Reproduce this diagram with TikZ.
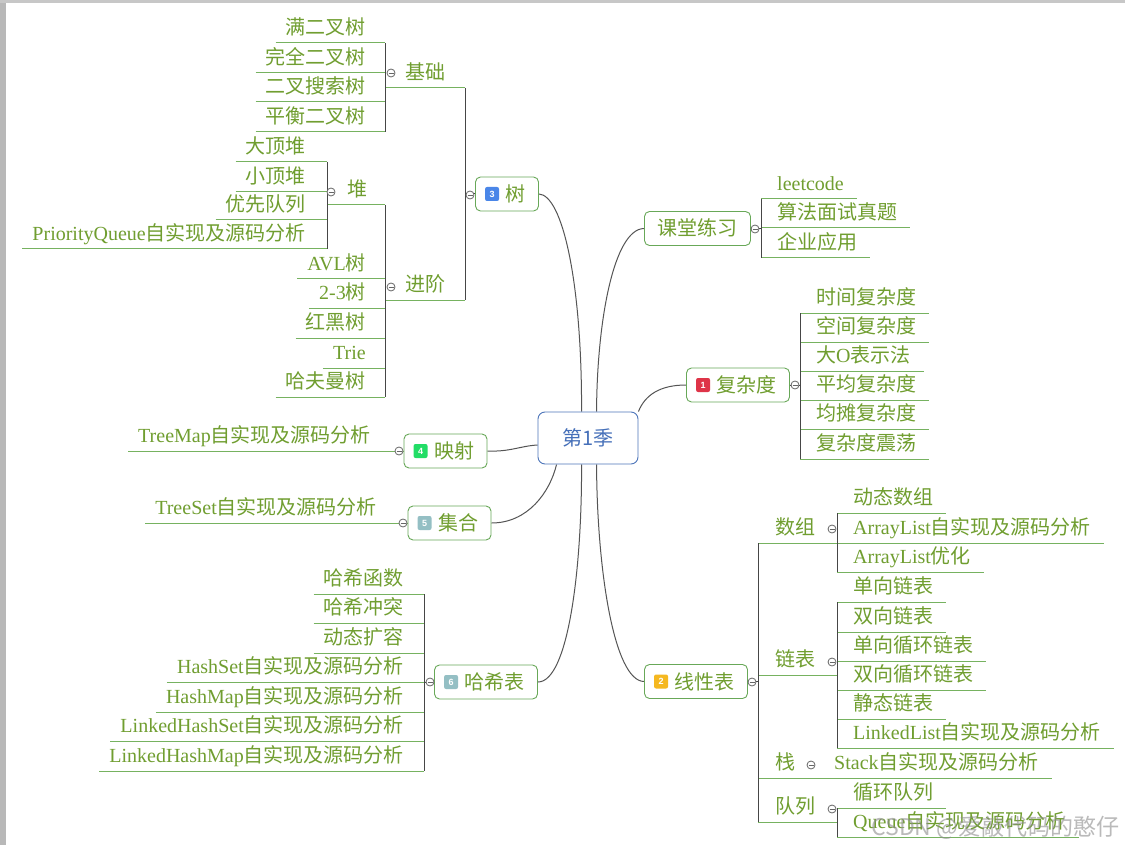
\documentclass[tikz,border=0pt]{standalone}
\usepackage{fontspec}
\setmainfont{Noto Sans CJK SC}
\newfontfamily\en{Liberation Serif}
\newfontfamily\bdg{Liberation Sans}
\definecolor{txtg}{RGB}{112,158,48}
\definecolor{boxg}{RGB}{104,168,88}
\definecolor{ulg}{RGB}{118,178,96}
\definecolor{brkc}{RGB}{70,70,70}
\definecolor{crv}{RGB}{85,85,85}
\definecolor{cblue}{RGB}{78,118,186}
\definecolor{ctext}{RGB}{70,112,185}
\definecolor{bone}{RGB}{222,52,72}
\definecolor{btwo}{RGB}{245,184,32}
\definecolor{bthree}{RGB}{74,134,232}
\definecolor{bfour}{RGB}{34,221,102}
\definecolor{bfive}{RGB}{148,191,196}
\pgfdeclarelayer{back}
\pgfdeclarelayer{bg}
\pgfsetlayers{back,bg,main}
\begin{document}
\begin{tikzpicture}[x=1pt,y=-1pt,
  leaf/.style={font=\fontsize{20}{24}\selectfont, text=txtg, inner xsep=0pt, inner ysep=8pt, text height=14pt, text depth=0pt},
  topic/.style={draw=boxg, fill=white, rounded corners=5pt, line width=0.9pt, text=txtg, font=\fontsize{20}{24}\selectfont, minimum height=34pt, inner xsep=13pt, text height=15pt, text depth=0pt},
  root/.style={draw=cblue, fill=white, rounded corners=7pt, line width=0.9pt, text=ctext, font=\fontsize{20}{24}\selectfont, minimum width=100pt, minimum height=52pt, text height=15pt, text depth=0pt},
  badge/.style={rounded corners=2pt, minimum width=14pt, minimum height=14pt, inner sep=0pt, text=white, font=\bdg\bfseries\fontsize{9}{9}\selectfont},
  tog/.style={circle, draw=black!60, fill=white, line width=0.8pt, minimum size=8pt, inner sep=0pt,
     path picture={\draw[black!60,line width=0.6pt] ([xshift=-2.5pt]path picture bounding box.center) -- ([xshift=2.5pt]path picture bounding box.center);}},
  uline/.style={draw=ulg, line width=1pt},
  bline/.style={draw=brkc, line width=1pt},
  conn/.style={draw=crv, line width=1pt}
]
\begin{pgfonlayer}{back}
\fill[white] (0,0) rectangle (1125,845);
\fill[black!28] (0,0) rectangle (6,845);
\fill[black!22] (0,0) rectangle (1125,3);
\end{pgfonlayer}
\useasboundingbox (0,0) rectangle (1125,845);

% bracket x positions
\coordinate (bT) at (465,0);
\coordinate (bJ) at (385,0);
\coordinate (bD) at (327,0);
\coordinate (bK) at (761,0);
\coordinate (bF) at (800,0);
\coordinate (bL) at (758,0);
\coordinate (bA) at (837,0);
\coordinate (bH) at (424,0);

% root
\node[root] (c) at (588,438) {第1季};

% main topics
\node[topic] (tree) at (507,194) {\hspace*{17pt}树};
\node[topic] (kt) at (697.5,228.5) {课堂练习};
\node[topic] (fz) at (738,385) {\hspace*{17pt}复杂度};
\node[topic] (ys) at (445.5,451) {\hspace*{17pt}映射};
\node[topic] (jh) at (449.5,523) {\hspace*{17pt}集合};
\node[topic] (hx) at (486,682) {\hspace*{17pt}哈希表};
\node[topic] (xx) at (696,681.5) {\hspace*{17pt}线性表};

% ---------- tree ----------
\node[leaf,anchor=south west] (jc) at (405,88) {基础};
\node[leaf,anchor=south west] (jj) at (405,300) {进阶};
\node[leaf,anchor=south west] (dui) at (347,205) {堆};
\node[leaf,anchor=south east] (l1) at (366,43) {满二叉树};
\node[leaf,anchor=south east] (l2) at (366,73) {完全二叉树};
\node[leaf,anchor=south east] (l3) at (366,102) {二叉搜索树};
\node[leaf,anchor=south east] (l4) at (366,132) {平衡二叉树};
\node[leaf,anchor=south east] (h1) at (306,162) {大顶堆};
\node[leaf,anchor=south east] (h2) at (306,192) {小顶堆};
\node[leaf,anchor=south east] (h3) at (306,220) {优先队列};
\node[leaf,anchor=south east] (h4) at (306,249) {{\en PriorityQueue}自实现及源码分析};
\node[leaf,anchor=south east] (g1) at (366,279) {{\en AVL}树};
\node[leaf,anchor=south east] (g2) at (366,308) {{\en 2-3}树};
\node[leaf,anchor=south east] (g3) at (366,338) {红黑树};
\node[leaf,anchor=south east] (g4) at (366,368) {{\en Trie}};
\node[leaf,anchor=south east] (g5) at (366,397) {哈夫曼树};
\foreach \n in {l1,l2,l3,l4,g1,g2,g3,g4,g5}{\draw[uline] ([xshift=-10pt]\n.south west) -- (\n.south -| bJ);}
\foreach \n in {h1,h2,h3,h4}{\draw[uline] ([xshift=-10pt]\n.south west) -- (\n.south -| bD);}
\draw[uline] (jc.south -| bJ) -- (jc.south -| bT);
\draw[uline] (jj.south -| bJ) -- (jj.south -| bT);
\draw[uline] (dui.south -| bD) -- (dui.south -| bJ);
\draw[bline] (l1.south -| bJ) -- (l4.south -| bJ);
\draw[bline] (h1.south -| bD) -- (h4.south -| bD);
\draw[bline] (dui.south -| bJ) -- (g5.south -| bJ);
\draw[bline] (jc.south -| bT) -- (jj.south -| bT);
\draw[bline] (tree.west) -- (tree.west -| bT);

% ---------- ketang ----------
\node[leaf,anchor=south west] (k1) at (777,199) {{\en leetcode}};
\node[leaf,anchor=south west] (k2) at (777,228) {算法面试真题};
\node[leaf,anchor=south west] (k3) at (777,258) {企业应用};
\foreach \n in {k1,k2,k3}{\draw[uline] (\n.south -| bK) -- ([xshift=13pt]\n.south east);}
\draw[bline] (k1.south -| bK) -- (k3.south -| bK);
\draw[bline] (kt.east) -- (kt.east -| bK);

% ---------- fuzadu ----------
\node[leaf,anchor=south west] (f1) at (816,313) {时间复杂度};
\node[leaf,anchor=south west] (f2) at (816,342) {空间复杂度};
\node[leaf,anchor=south west] (f3) at (816,371) {大{\en O}表示法};
\node[leaf,anchor=south west] (f4) at (816,400) {平均复杂度};
\node[leaf,anchor=south west] (f5) at (816,429) {均摊复杂度};
\node[leaf,anchor=south west] (f6) at (816,459) {复杂度震荡};
\foreach \n in {f1,f2,f3,f4,f5,f6}{\draw[uline] (\n.south -| bF) -- ([xshift=13pt]\n.south east);}
\draw[bline] (f1.south -| bF) -- (f6.south -| bF);
\draw[bline] (fz.east) -- (fz.east -| bF);

% ---------- map / set ----------
\node[leaf,anchor=south east] (tm) at (371,451) {{\en TreeMap}自实现及源码分析};
\draw[uline] ([xshift=-10pt]tm.south west) -- (tm.south -| ys.west);
\node[leaf,anchor=south east] (ts) at (377,523) {{\en TreeSet}自实现及源码分析};
\draw[uline] ([xshift=-10pt]ts.south west) -- (ts.south -| jh.west);

% ---------- hash ----------
\node[leaf,anchor=south east] (x1) at (404,594) {哈希函数};
\node[leaf,anchor=south east] (x2) at (404,623) {哈希冲突};
\node[leaf,anchor=south east] (x3) at (404,653) {动态扩容};
\node[leaf,anchor=south east] (x4) at (404,682) {{\en HashSet}自实现及源码分析};
\node[leaf,anchor=south east] (x5) at (404,712) {{\en HashMap}自实现及源码分析};
\node[leaf,anchor=south east] (x6) at (404,741) {{\en LinkedHashSet}自实现及源码分析};
\node[leaf,anchor=south east] (x7) at (404,771) {{\en LinkedHashMap}自实现及源码分析};
\foreach \n in {x1,x2,x3,x4,x5,x6,x7}{\draw[uline] ([xshift=-10pt]\n.south west) -- (\n.south -| bH);}
\draw[bline] (x1.south -| bH) -- (x7.south -| bH);
\draw[bline] (hx.west) -- (hx.west -| bH);

% ---------- linear ----------
\node[leaf,anchor=south west] (sz) at (775,543) {数组};
\node[leaf,anchor=south west] (lb) at (775,675) {链表};
\node[leaf,anchor=south west] (zh) at (775,778) {栈};
\node[leaf,anchor=south west] (dl) at (775,822) {队列};
\node[leaf,anchor=south west] (a1) at (853,513) {动态数组};
\node[leaf,anchor=south west] (a2) at (853,543) {{\en ArrayList}自实现及源码分析};
\node[leaf,anchor=south west] (a3) at (853,572) {{\en ArrayList}优化};
\node[leaf,anchor=south west] (b1) at (853,602) {单向链表};
\node[leaf,anchor=south west] (b2) at (853,632) {双向链表};
\node[leaf,anchor=south west] (b3) at (853,661) {单向循环链表};
\node[leaf,anchor=south west] (b4) at (853,690) {双向循环链表};
\node[leaf,anchor=south west] (b5) at (853,719) {静态链表};
\node[leaf,anchor=south west] (b6) at (853,748) {{\en LinkedList}自实现及源码分析};
\node[leaf,anchor=south west] (st) at (834,778) {{\en Stack}自实现及源码分析};
\node[leaf,anchor=south west] (q1) at (853,808) {循环队列};
\node[leaf,anchor=south west] (q2) at (853,837) {{\en Queue}自实现及源码分析};
\foreach \n in {a1,a2,a3,b1,b2,b3,b4,b5,b6,q1,q2}{\draw[uline] (\n.south -| bA) -- ([xshift=13pt]\n.south east);}
\foreach \n in {sz,lb,dl}{\draw[uline] (\n.south -| bL) -- (\n.south -| bA);}
\draw[uline] (zh.south -| bL) -- ([xshift=13pt]st.south east);
\draw[bline] (a1.south -| bA) -- (a3.south -| bA);
\draw[bline] (b1.south -| bA) -- (b6.south -| bA);
\draw[bline] (q1.south -| bA) -- (q2.south -| bA);
\draw[bline] (sz.south -| bL) -- (dl.south -| bL);
\draw[bline] (xx.east) -- (xx.east -| bL);

% ---------- toggles ----------
\node[tog] (t1) at (470,195) {};
\node[tog] (t2) at (391,73) {};
\node[tog] (t3) at (331,192) {};
\node[tog] (t4) at (391,287) {};
\node[tog] (t5) at (755,229) {};
\node[tog] (t6) at (795,385) {};
\node[tog] (t7) at (399,451) {};
\node[tog] (t8) at (403,523) {};
\node[tog] (t9) at (430,682) {};
\node[tog] (t10) at (752,682) {};
\node[tog] (t11) at (832,529) {};
\node[tog] (t12) at (832,662) {};
\node[tog] (t13) at (811,765) {};
\node[tog] (t14) at (832,809) {};

% ---------- badges ----------
\node[badge,fill=bthree] (bd3) at ([xshift=17pt]tree.west) {3};
\node[badge,fill=bone] (bd1) at ([xshift=17pt]fz.west) {1};
\node[badge,fill=bfour] (bd4) at ([xshift=17pt]ys.west) {4};
\node[badge,fill=bfive] (bd5) at ([xshift=17pt]jh.west) {5};
\node[badge,fill=bfive] (bd6) at ([xshift=17pt]hx.west) {6};
\node[badge,fill=btwo] (bd2) at ([xshift=17pt]xx.west) {2};

% ---------- curves ----------
\begin{pgfonlayer}{bg}
\draw[conn] (tree.east) .. controls (562,195) and (582,280) .. ([xshift=44pt]c.north west);
\draw[conn] (kt.west) .. controls (614,229) and (597,320) .. ([xshift=59pt]c.north west);
\draw[conn] (fz.west) .. controls (660,385) and (645,395) .. (c.north east);
\draw[conn] (ys.east) .. controls (510,452) and (520,446) .. ([yshift=-7pt]c.west);
\draw[conn] (jh.east) .. controls (528,523) and (550,492) .. ([xshift=19pt]c.south west);
\draw[conn] (hx.east) .. controls (568,682) and (582,570) .. ([xshift=44pt]c.south west);
\draw[conn] (xx.west) .. controls (614,681) and (597,570) .. ([xshift=59pt]c.south west);
\end{pgfonlayer}

% watermark
\node[anchor=east, font=\fontsize{23}{23}\selectfont, text=black!45, text opacity=0.6] (wm) at (1123,828) {CSDN @爱敲代码的憨仔};
\end{tikzpicture}
\end{document}
